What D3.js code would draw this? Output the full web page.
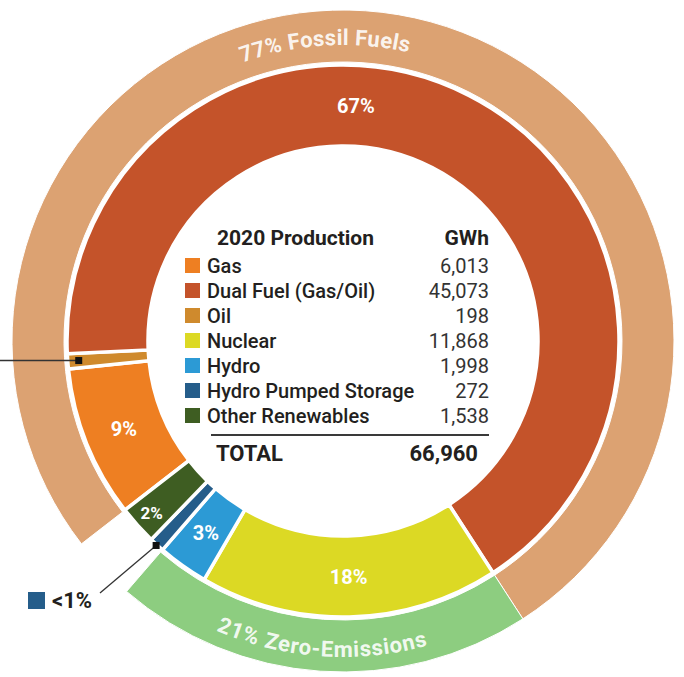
<!DOCTYPE html>
<html>
<head>
<meta charset="utf-8">
<script src="https://cdn.jsdelivr.net/npm/d3@7"></script>
<style>
  body { margin: 0; background: #fff; }
  svg { display: block; font-family: Roboto, "Noto Sans", sans-serif; }
</style>
</head>
<body>
<svg id="chart"></svg>
<script>
// 2020 production by source (GWh)
var categories = ["Gas", "Dual Fuel (Gas/Oil)", "Oil", "Nuclear", "Hydro", "Hydro Pumped Storage", "Other Renewables"];
var gwh = [6013, 45073, 198, 11868, 1998, 272, 1538];
var colors = ["#ee7f22", "#c4532a", "#cf8a2d", "#dcd924", "#2c9ad5", "#255d8a", "#3e5d22"];
var sliceLabels = ["9%", "67%", "", "18%", "3%", "", "2%"];
var groupOf = ["fossil", "fossil", "fossil", "zero", "zero", null, null];

var groups = ["fossil", "zero"];
var groupLabels = ["77% Fossil Fuels", "21% Zero-Emissions"];
var groupColors = ["#dca272", "#8dcd80"];

// order of slices going round the ring clockwise, starting at gas
var ringOrder = [0, 2, 1, 3, 4, 5, 6];

var width = 684, height = 677;
var cx = 343, cy = 341;
var rIn0 = 195, rIn1 = 276;     // inner ring
var rOut0 = 279, rOut1 = 331;   // outer ring
var minShown = 600;             // tiny slices get a visible minimum width
var startAngle = 232.2 * Math.PI / 180;

var svg = d3.select("#chart").attr("width", width).attr("height", height);
var g = svg.append("g").attr("transform", "translate(" + cx + "," + cy + ")");

var pie = d3.pie()
  .sort(null)
  .value(function(d) { return Math.max(gwh[d], minShown); })
  .startAngle(startAngle)
  .endAngle(startAngle + 2 * Math.PI);

var slices = pie(ringOrder);
var arcIn = d3.arc().innerRadius(rIn0).outerRadius(rIn1);
var arcOut = d3.arc().innerRadius(rOut0).outerRadius(rOut1);

// outer ring: one arc per group spanning its member slices
var groupArcs = groups.map(function(gr, gi) {
  var members = slices.filter(function(s) { return groupOf[s.data] == gr; });
  return {
    startAngle: d3.min(members, function(s) { return s.startAngle; }),
    endAngle: d3.max(members, function(s) { return s.endAngle; }),
    i: gi
  };
});

g.selectAll(".outer").data(groupArcs).enter().append("path")
  .attr("class", "outer")
  .attr("d", arcOut)
  .attr("fill", function(d) { return groupColors[d.i]; })
  .attr("stroke", "#fff")
  .attr("stroke-width", 1);

g.selectAll(".slice").data(slices).enter().append("path")
  .attr("class", "slice")
  .attr("d", arcIn)
  .attr("fill", function(d) { return colors[d.data]; })
  .attr("stroke", "#fff")
  .attr("stroke-width", 3.5)
  .attr("stroke-linejoin", "miter");

// percentage labels inside the inner ring
function polar(r, a) { return [r * Math.sin(a), -r * Math.cos(a)]; }

g.selectAll(".pct").data(slices.filter(function(s) { return sliceLabels[s.data] != ""; }))
  .enter().append("text")
  .attr("class", "pct")
  .attr("text-anchor", "middle")
  .attr("dy", "0.36em")
  .attr("fill", "#fff")
  .attr("font-weight", 700)
  .attr("font-size", function(d) { return (d.endAngle - d.startAngle) < 0.16 ? 17 : 20; })
  .attr("transform", function(d) {
    var span = d.endAngle - d.startAngle;
    var a = span > Math.PI ? 2 * Math.PI + 0.055 : (d.startAngle + d.endAngle) / 2;
    var r = span < 0.16 ? 257 : 236;
    var p = polar(r, a);
    return "translate(" + p[0] + "," + p[1] + ")";
  })
  .text(function(d) { return sliceLabels[d.data]; });

// curved group labels
var defs = svg.append("defs");
function arcPath(r, a0, a1, sweep) {
  var p0 = polar(r, a0), p1 = polar(r, a1);
  return "M" + p0[0] + "," + p0[1] + " A" + r + "," + r + " 0 0 " + sweep + " " + p1[0] + "," + p1[1];
}
var deg = Math.PI / 180;
defs.append("path").attr("id", "gp0").attr("d", arcPath(296, -63.5 * deg, 56.5 * deg, 1));
defs.append("path").attr("id", "gp1").attr("d", arcPath(316, 244 * deg, 124 * deg, 0));

groupLabels.forEach(function(lbl, i) {
  g.append("text")
    .attr("fill", "#fff")
    .attr("fill-opacity", 0.9)
    .attr("font-weight", 700)
    .attr("font-size", 22)
    .attr("letter-spacing", i == 0 ? 0.3 : 0.8)
    .append("textPath")
    .attr("href", "#gp" + i)
    .attr("startOffset", "50%")
    .attr("text-anchor", "middle")
    .text(lbl);
});

// leader lines for the thin slices
function sliceOf(cat) { return slices.filter(function(s) { return s.data == cat; })[0]; }
var oil = sliceOf(2);
var pOil = polar(265, (oil.startAngle + oil.endAngle) / 2);
g.append("line")
  .attr("x1", pOil[0]).attr("y1", pOil[1])
  .attr("x2", -cx - 5).attr("y2", pOil[1])
  .attr("stroke", "#333").attr("stroke-width", 1.3);
g.append("rect")
  .attr("x", pOil[0] - 3.5).attr("y", pOil[1] - 3.5)
  .attr("width", 7).attr("height", 7).attr("fill", "#111");

var ps = sliceOf(5);
var pPs = polar(277, (ps.startAngle + ps.endAngle) / 2);
g.append("line")
  .attr("x1", pPs[0]).attr("y1", pPs[1])
  .attr("x2", 100 - cx).attr("y2", 593 - cy)
  .attr("stroke", "#333").attr("stroke-width", 1.3);
g.append("rect")
  .attr("x", pPs[0] - 3.5).attr("y", pPs[1] - 3.5)
  .attr("width", 7).attr("height", 7).attr("fill", "#111");
svg.append("rect")
  .attr("x", 28).attr("y", 592).attr("width", 17).attr("height", 17)
  .attr("fill", colors[5]);
svg.append("text")
  .attr("x", 52).attr("y", 608)
  .attr("font-size", 22).attr("font-weight", 700).attr("fill", "#231f20")
  .text("<1%");

// legend table in the middle
var fmt = d3.format(",");
var legend = svg.append("g").attr("fill", "#231f20");
var rowY = d3.scalePoint().domain(d3.range(categories.length)).range([273, 423]);

legend.append("text").attr("x", 217).attr("y", 245)
  .attr("font-size", 21).attr("font-weight", 700).text("2020 Production");
legend.append("text").attr("x", 489).attr("y", 245).attr("text-anchor", "end")
  .attr("font-size", 21).attr("font-weight", 700).text("GWh");

var rows = legend.selectAll(".row").data(d3.range(categories.length)).enter().append("g")
  .attr("class", "row")
  .attr("transform", function(i) { return "translate(0," + rowY(i) + ")"; });
rows.append("rect").attr("x", 185).attr("y", -15).attr("width", 15).attr("height", 15)
  .attr("fill", function(i) { return colors[i]; });
rows.append("text").attr("x", 207).attr("font-size", 20).attr("font-weight", 500)
  .text(function(i) { return categories[i]; });
rows.append("text").attr("x", 489).attr("text-anchor", "end").attr("font-size", 20)
  .attr("fill", "#333")
  .text(function(i) { return fmt(gwh[i]); });

legend.append("line").attr("x1", 211).attr("x2", 489).attr("y1", 435).attr("y2", 435)
  .attr("stroke", "#3a3a3a").attr("stroke-width", 2);
legend.append("text").attr("x", 216).attr("y", 461)
  .attr("font-size", 22).attr("font-weight", 700).text("TOTAL");
legend.append("text").attr("x", 478).attr("y", 461).attr("text-anchor", "end")
  .attr("font-size", 22).attr("font-weight", 700).text(fmt(d3.sum(gwh)));
</script>
</body>
</html>
